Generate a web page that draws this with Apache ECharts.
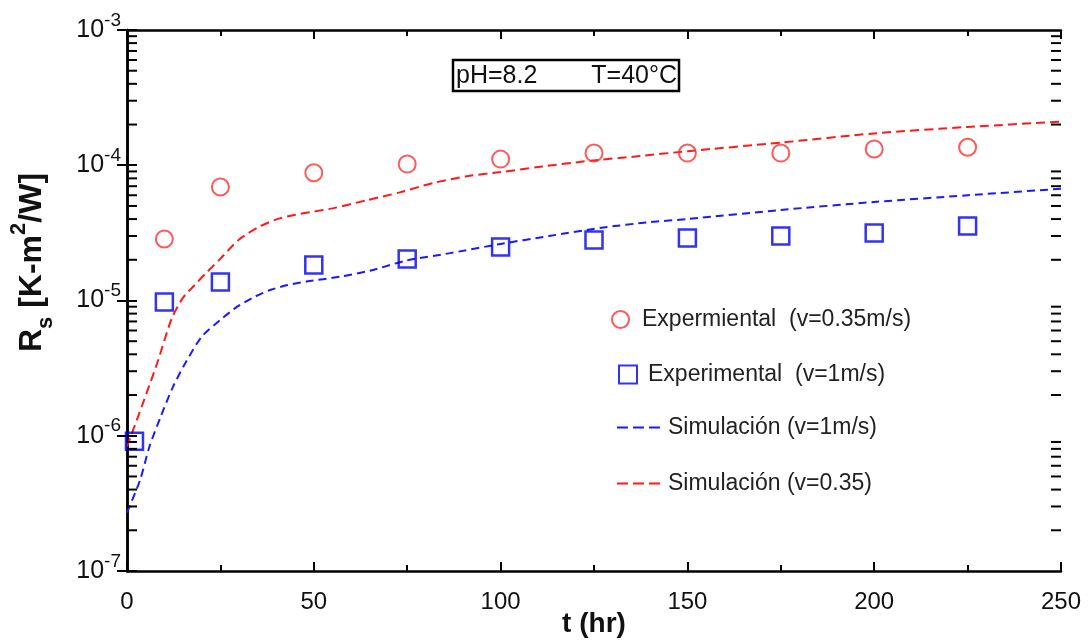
<!DOCTYPE html>
<html>
<head>
<meta charset="utf-8">
<script src="https://cdn.jsdelivr.net/npm/echarts@6/dist/echarts.min.js"></script>
<style>
html,body{margin:0;padding:0;background:#fff;}
#chart{width:1088px;height:644px;}
</style>
</head>
<body>
<div id="chart"></div>
<script>
// ---- data ----
const tExpRed = [10, 25, 50, 75, 100, 125, 150, 175, 200, 225];
const rsExpRed = [2.85e-5, 6.9e-5, 8.8e-5, 1.02e-4, 1.11e-4, 1.23e-4, 1.23e-4, 1.23e-4, 1.32e-4, 1.36e-4];

const tExpBlue = [2, 10, 25, 50, 75, 100, 125, 150, 175, 200, 225];
const rsExpBlue = [9.1e-7, 9.75e-6, 1.37e-5, 1.83e-5, 2.03e-5, 2.49e-5, 2.8e-5, 2.9e-5, 3.0e-5, 3.15e-5, 3.56e-5];

const tSimRed = [0, 4, 8, 12, 15, 18, 21, 25, 30, 35, 40, 45, 50, 55, 64, 73, 82, 91, 100, 110, 124, 136, 150, 175, 200, 225, 250];
const rsSimRed = [8.3e-7, 1.66e-6, 3.39e-6, 7.4e-6, 1.05e-5, 1.29e-5, 1.58e-5, 2.04e-5, 2.82e-5, 3.47e-5, 3.98e-5, 4.3e-5, 4.55e-5, 4.8e-5, 5.5e-5, 6.3e-5, 7.4e-5, 8.3e-5, 8.9e-5, 9.7e-5, 1.08e-4, 1.16e-4, 1.27e-4, 1.47e-4, 1.72e-4, 1.92e-4, 2.1e-4];

const tSimBlue = [0, 3.5, 6, 9, 12.3, 16, 20, 25, 29.5, 34, 38.5, 43, 48, 57, 65, 75, 86.5, 100, 113, 127, 140, 150, 175, 200, 225, 250];
const rsSimBlue = [2.7e-7, 4.7e-7, 8.3e-7, 1.38e-6, 2.3e-6, 3.6e-6, 5.4e-6, 7.2e-6, 9.0e-6, 1.06e-5, 1.2e-5, 1.3e-5, 1.38e-5, 1.5e-5, 1.66e-5, 1.98e-5, 2.24e-5, 2.62e-5, 3.0e-5, 3.45e-5, 3.8e-5, 4.0e-5, 4.67e-5, 5.35e-5, 6.0e-5, 6.7e-5];

const xTicks = [0, 50, 100, 150, 200, 250];
const yDecades = [-7, -6, -5, -4, -3];

const nameExpRed = 'Expermiental  (v=0.35m/s)';
const nameExpBlue = 'Experimental  (v=1m/s)';
const nameSimBlue = 'Simulación (v=1m/s)';
const nameSimRed = 'Simulación (v=0.35)';
const infoLeft = 'pH=8.2';
const infoRight = 'T=40°C';

function pairs(xs, ys) { return xs.map((x, i) => [x, ys[i]]); }

const FONT = '"Liberation Sans", Arial, sans-serif';
const chart = echarts.init(document.getElementById('chart'), null, {renderer: 'canvas'});

const supRich = {
  b: {fontSize: 25, fontFamily: FONT, color: '#111', lineHeight: 26, padding: [6, 0, 6, 0]},
  s: {fontSize: 19, fontFamily: FONT, color: '#111', lineHeight: 19, padding: [0, 0, 19, 0]}
};

const dashIcon = 'path://M0 0h11v2h-11zM16 0h11v2h-11zM32 0h11v2h-11z';

const yAxisCommon = {
  type: 'log', logBase: 10, min: 1e-7, max: 1e-3,
  axisLine: {show: true, lineStyle: {color: '#000', width: 2.5}},
  axisTick: {show: true, inside: true, length: 10, lineStyle: {color: '#000', width: 2}},
  splitLine: {show: false}
};
const xAxisCommon = {
  type: 'value', min: 0, max: 250, interval: 50,
  axisLine: {show: true, onZero: false, lineStyle: {color: '#000', width: 2.5}},
  axisTick: {show: true, inside: true, length: 9, lineStyle: {color: '#000', width: 2}},
  minorTick: {show: true, splitNumber: 2, length: 6, lineStyle: {color: '#000', width: 2}},
  splitLine: {show: false}
};

const legendText = {fontSize: 23, fontFamily: FONT, color: '#222'};
const yNameBold = {fontWeight: 'bold', fontFamily: FONT, color: '#111'};

const option = {
  backgroundColor: '#fff',
  animation: false,
  grid: {left: 127, right: 27, top: 30, bottom: 73, containLabel: false, outerBoundsMode: 'none'},
  xAxis: [
    Object.assign({}, xAxisCommon, {
      position: 'bottom',
      name: 't (hr)', nameLocation: 'middle', nameGap: 39, nameMoveOverlap: false,
      nameTextStyle: {fontSize: 28, fontWeight: 'bold', fontFamily: FONT, color: '#111'},
      axisLabel: {show: true, margin: 19, fontSize: 24, fontFamily: FONT, color: '#111',
        formatter: v => xTicks.includes(v) ? String(v) : ''}
    }),
    Object.assign({}, xAxisCommon, {position: 'top', axisLabel: {show: false}})
  ],
  yAxis: [
    Object.assign({}, yAxisCommon, {
      position: 'left',
      name: '{pad| }{n|R}{sub|s}{n| [K-m}{sup|2}{n|/W]}',
      nameLocation: 'middle', nameRotate: 90, nameGap: 78, nameMoveOverlap: false,
      nameTextStyle: {
        rich: {
          n: Object.assign({fontSize: 32, lineHeight: 33, padding: [8, 0, 8, 0]}, yNameBold),
          sub: Object.assign({fontSize: 22, lineHeight: 22, padding: [27, 0, 0, 0]}, yNameBold),
          sup: Object.assign({fontSize: 22, lineHeight: 22, padding: [0, 0, 27, 0]}, yNameBold),
          pad: {width: 76, fontSize: 10}
        }
      },
      axisLabel: {
        show: true, margin: 6,
        formatter: v => {
          const e = Math.round(Math.log10(v));
          return yDecades.includes(e) ? '{b|10}{s|' + e + '}' : '';
        },
        rich: supRich
      }
    }),
    Object.assign({}, yAxisCommon, {position: 'right', axisLabel: {show: false}})
  ],
  legend: [
    {data: [nameExpRed], orient: 'vertical', left: 606, top: 303, itemWidth: 17, itemHeight: 17,
      textStyle: Object.assign({padding: [0, 0, 0, 8]}, legendText)},
    {data: [nameExpBlue], orient: 'vertical', left: 613, top: 358, itemWidth: 18, itemHeight: 18,
      textStyle: Object.assign({padding: [0, 0, 0, 6]}, legendText)},
    {data: [{name: nameSimBlue, icon: dashIcon}], orient: 'vertical', left: 612, top: 411, itemWidth: 43, itemHeight: 2,
      textStyle: Object.assign({padding: [0, 0, 0, 3]}, legendText)},
    {data: [{name: nameSimRed, icon: dashIcon}], orient: 'vertical', left: 612, top: 467, itemWidth: 43, itemHeight: 2,
      textStyle: Object.assign({padding: [0, 0, 0, 3]}, legendText)}
  ],
  series: [
    {
      name: nameSimRed, type: 'line', data: pairs(tSimRed, rsSimRed),
      symbol: 'none', showSymbol: false, smooth: 0.25, z: 2,
      lineStyle: {color: '#ff1a1a', width: 2, type: [9, 5]},
      itemStyle: {color: '#ff1a1a'}
    },
    {
      name: nameSimBlue, type: 'line', data: pairs(tSimBlue, rsSimBlue),
      symbol: 'none', showSymbol: false, smooth: 0.25, z: 2,
      lineStyle: {color: '#1a1aff', width: 2, type: [8, 5]},
      itemStyle: {color: '#1a1aff'}
    },
    {
      name: nameExpRed, type: 'scatter', data: pairs(tExpRed, rsExpRed),
      symbol: 'circle', symbolSize: 17, z: 3,
      itemStyle: {color: 'rgba(255,255,255,0)', borderColor: '#ff3030', borderWidth: 2}
    },
    {
      name: nameExpBlue, type: 'scatter', data: pairs(tExpBlue, rsExpBlue),
      symbol: 'rect', symbolSize: 17, z: 3,
      itemStyle: {color: 'rgba(255,255,255,0)', borderColor: '#0000ee', borderWidth: 2.5}
    }
  ]
};

chart.setOption(option);

// minor log ticks (2..9 x 10^e) on left and right axes, plus info box
const graphics = [];
const xL = chart.convertToPixel({xAxisIndex: 0}, 0);
const xR = chart.convertToPixel({xAxisIndex: 0}, 250);
for (let e = -7; e < -3; e++) {
  for (let k = 2; k <= 9; k++) {
    const y = chart.convertToPixel({yAxisIndex: 0}, k * Math.pow(10, e));
    graphics.push({type: 'line', silent: true, z: 10,
      shape: {x1: xL, y1: y, x2: xL + 10, y2: y}, style: {stroke: '#000', lineWidth: 2}});
    graphics.push({type: 'line', silent: true, z: 10,
      shape: {x1: xR, y1: y, x2: xR - 10, y2: y}, style: {stroke: '#000', lineWidth: 2}});
  }
}
graphics.push({type: 'rect', z: 20, shape: {x: 453, y: 60, width: 226, height: 31},
  style: {fill: '#fff', stroke: '#000', lineWidth: 2.5}});
graphics.push({type: 'text', z: 21, x: 456, y: 76,
  style: {text: infoLeft, fontSize: 25, fontFamily: FONT, fill: '#111', verticalAlign: 'middle', align: 'left'}});
graphics.push({type: 'text', z: 21, x: 677, y: 76,
  style: {text: infoRight, fontSize: 25, fontFamily: FONT, fill: '#111', verticalAlign: 'middle', align: 'right'}});
chart.setOption({graphic: graphics});
</script>
</body>
</html>
